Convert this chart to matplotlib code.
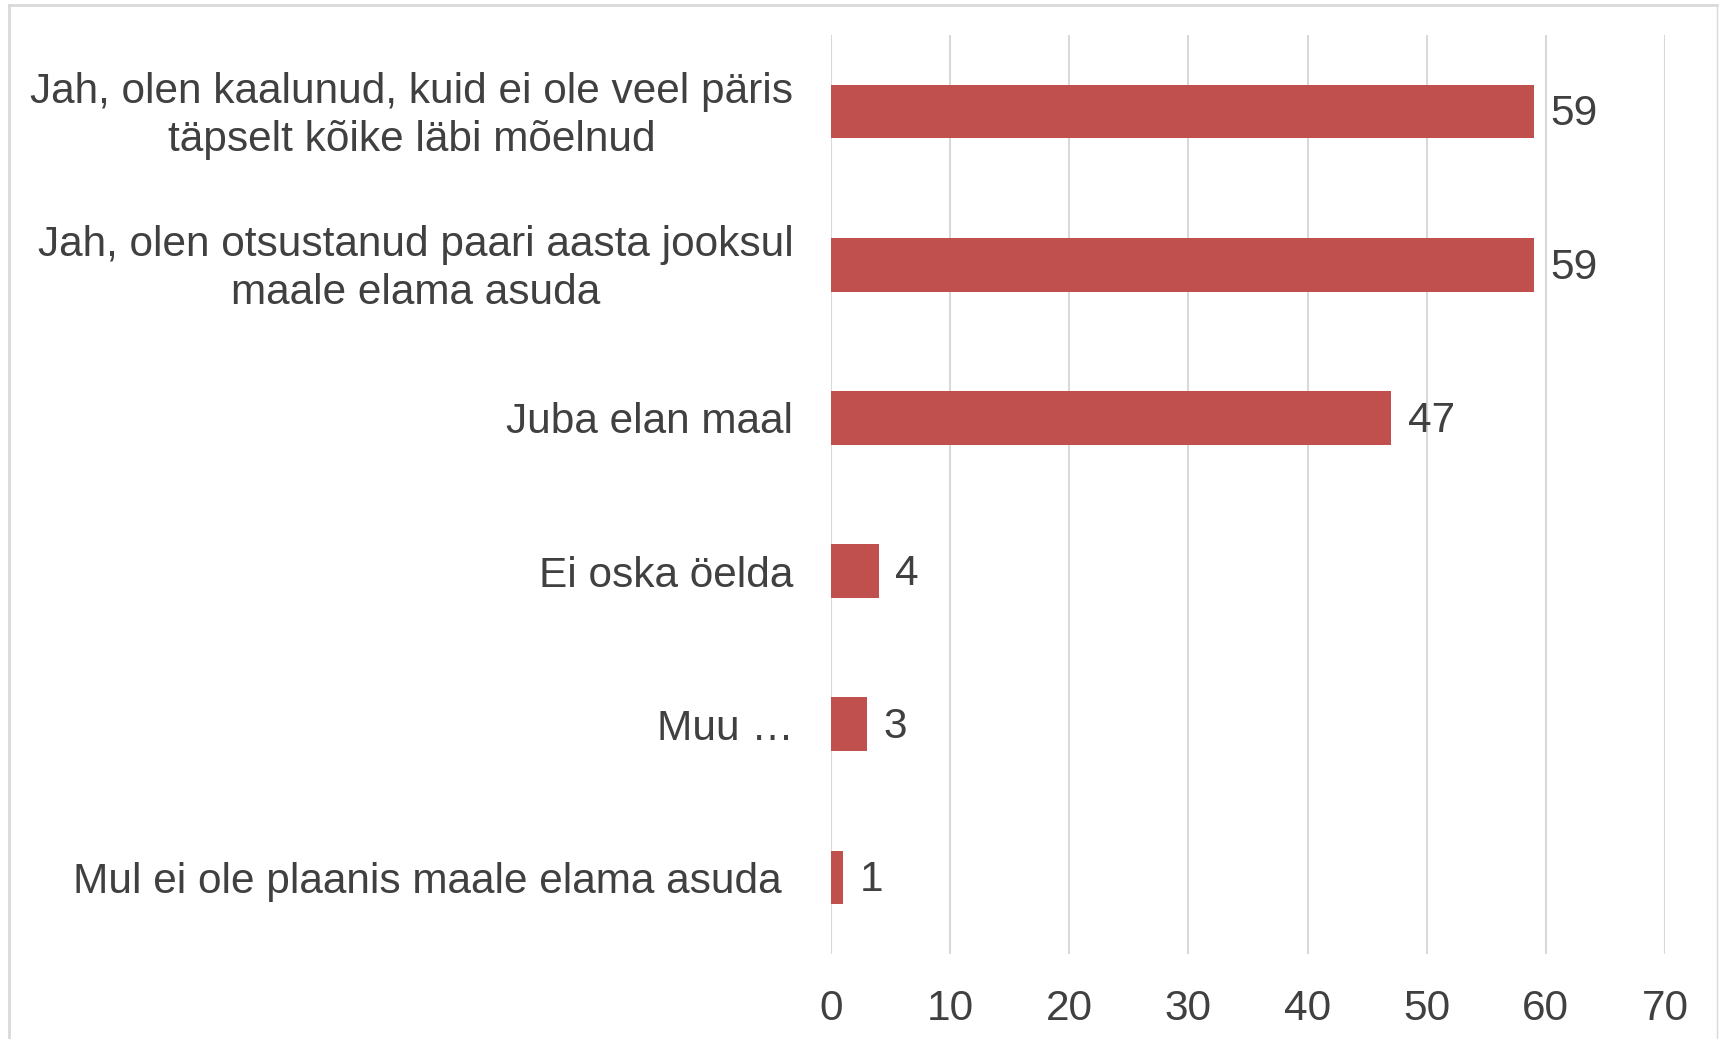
import matplotlib
matplotlib.use("Agg")
import matplotlib.pyplot as plt
from matplotlib.lines import Line2D
from matplotlib.transforms import ScaledTranslation

plt.rcParams['font.family'] = ['Liberation Sans', 'DejaVu Sans']

categories = [
    "Jah, olen kaalunud, kuid ei ole veel päris\ntäpselt kõike läbi mõelnud",
    "Jah, olen otsustanud paari aasta jooksul\nmaale elama asuda",
    "Juba elan maal",
    "Ei oska öelda",
    "Muu …",
    "Mul ei ole plaanis maale elama asuda ",
]
values = [59, 59, 47, 4, 3, 1]
xticks = [0, 10, 20, 30, 40, 50, 60, 70]

bar_color = "#C0504D"
text_color = "#404040"
grid_color = "#D9D9D9"
fs = 30.5

fig = plt.figure(figsize=(17.19, 10.39), dpi=100)
ax = fig.add_axes([0.4834, 0.0818, 0.9686 - 0.4834, 0.9663 - 0.0818])

ypos = list(range(len(categories)))
ax.barh(ypos, values, height=0.35, color=bar_color, zorder=3)
ax.set_ylim(len(categories) - 0.5, -0.5)
ax.set_xlim(0, 70)
ax.set_xticks(xticks)
ax.set_xticklabels([str(t) for t in xticks])
ax.set_yticks(ypos)
ax.set_yticklabels(categories, ha='right', multialignment='center', linespacing=1.25)

for y, v in zip(ypos, values):
    ax.annotate(str(v), (v, y), xytext=(12, -2), textcoords='offset points',
                va='center', ha='left', fontsize=fs, color=text_color)

ax.grid(axis='x', color=grid_color, linewidth=1.5, zorder=0)
ax.tick_params(axis='x', length=0, pad=25, labelsize=fs, labelcolor=text_color)
ax.tick_params(axis='y', length=0, pad=27, labelsize=fs, labelcolor=text_color)
for s in ax.spines.values():
    s.set_visible(False)

# nudge two-line labels up slightly
for lab in ax.get_yticklabels():
    if "\n" in lab.get_text():
        lab.set_transform(lab.get_transform() + ScaledTranslation(0, 3/72, fig.dpi_scale_trans))

# chart border
fig.add_artist(Line2D([9/1719, 9/1719], [0, 1 - 5/1039], transform=fig.transFigure, color="#D9D9D9", lw=2))
fig.add_artist(Line2D([9/1719, 1717/1719], [1 - 5/1039, 1 - 5/1039], transform=fig.transFigure, color="#D9D9D9", lw=2))
fig.add_artist(Line2D([1717/1719, 1717/1719], [0, 1 - 5/1039], transform=fig.transFigure, color="#D9D9D9", lw=1))

fig.savefig("out.png", dpi=100, facecolor="white")
